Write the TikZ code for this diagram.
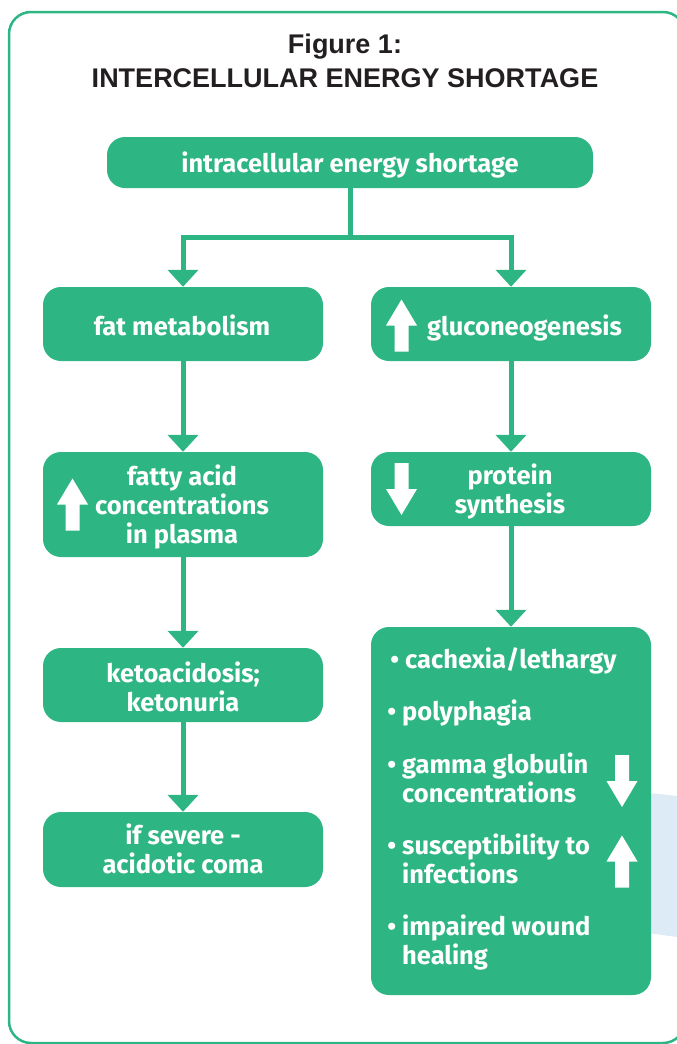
\documentclass[tikz,border=0pt]{standalone}
\usepackage{fontspec}
\setmainfont{Fira Sans}
\newfontfamily\titlefont{Liberation Sans}
\usetikzlibrary{arrows.meta}
\definecolor{vgreen}{HTML}{2EB584}
\definecolor{vblue}{HTML}{DCEBF5}
\definecolor{vink}{HTML}{231F20}
\tikzset{
  box/.style={fill=vgreen, rounded corners=18pt, minimum width=280pt, inner sep=0pt},
  boxtxt/.style={text=white, font=\bfseries\fontsize{25.5}{29}\selectfont, align=center,
    inner sep=0pt, anchor=base},
  itemtxt/.style={text=white, font=\bfseries\fontsize{25.5}{29}\selectfont, align=left,
    inner sep=0pt, anchor=base west},
  titletxt/.style={font=\titlefont\bfseries\fontsize{27}{34}\selectfont, text=vink,
    anchor=base, inner sep=0pt},
  link/.style={draw=vgreen, line width=5pt},
  conn/.style={link, -{Triangle[width=30pt,length=17pt]}},
  uparrow/.pic={\fill[white] (-7,26)--(-7,0)--(-15.5,0)--(0,-26)--(15.5,0)--(7,0)--(7,26)--cycle;},
  downarrow/.pic={\fill[white] (-7,-26)--(-7,0)--(-15.5,0)--(0,26)--(15.5,0)--(7,0)--(7,-26)--cycle;},
}
\begin{document}
\begin{tikzpicture}[x=1pt,y=-1pt]
\useasboundingbox (0,0) rectangle (677,1044);
\begin{scope}
\clip (0,0) rectangle (677,1044);
\draw[vgreen, line width=2.5pt, rounded corners=22pt] (9,12) rectangle (685,1043);
\fill[vblue] (640,792) -- (677,796) -- (677,937) -- (640,932) -- cycle;
\end{scope}

\node[titletxt] (title1) at (345,53) {Figure 1:};
\node[titletxt] (title2) at (345,87) {INTERCELLULAR ENERGY SHORTAGE};

% boxes
\node[box, minimum width=486pt, minimum height=51pt] (top) at (350,162.5) {};
\node[box, minimum height=74pt] (fat) at (183,324) {};
\node[box, minimum height=105pt] (fatty) at (183,504.5) {};
\node[box, minimum height=74pt] (keto) at (183,685) {};
\node[box, minimum height=75pt] (severe) at (183,849.5) {};
\node[box, minimum height=74pt] (gluc) at (511,324) {};
\node[box, minimum height=74pt] (prot) at (511,489) {};
\node[box, minimum height=368pt] (list) at (511,811) {};

% box texts (anchored at the baseline of their last line)
\node[boxtxt] (top-t) at (350,172) {intracellular energy shortage};
\node[boxtxt] (fat-t) at (182,335) {fat metabolism};
\node[boxtxt] (fatty-t) at (182,543) {fatty acid\\concentrations\\in plasma};
\node[boxtxt] (keto-t) at (183,711) {ketoacidosis;\\ketonuria};
\node[boxtxt] (severe-t) at (183,873) {if severe -\\acidotic coma};
\node[boxtxt] (gluc-t) at (524.5,335) {gluconeogenesis};
\node[boxtxt] (prot-t) at (510,513) {protein\\synthesis};

\pic at (401.5,325.5) {uparrow};
\pic at (72.5,504.5) {uparrow};
\pic at (401.5,489) {downarrow};
\pic at (622,781) {downarrow};
\pic at (622,861.5) {uparrow};

\node[itemtxt] (i1) at (405,668) {\llap{•\hspace{6pt}}cachexia/lethargy};
\node[itemtxt] (i2) at (402,720) {\llap{•\hspace{6pt}}polyphagia};
\node[itemtxt] (i3) at (402,802) {\llap{•\hspace{6pt}}gamma globulin\\concentrations};
\node[itemtxt] (i4) at (402,883) {\llap{•\hspace{6pt}}susceptibility to\\infections};
\node[itemtxt] (i5) at (402,964) {\llap{•\hspace{6pt}}impaired wound\\healing};

\coordinate (split) at (350,237);
\draw[link] (top.south) -- (split);
\draw[conn] (split) -| (fat.north);
\draw[conn] (split) -| (gluc.north);
\draw[conn] (fat.south) -- (fatty.north);
\draw[conn] (fatty.south) -- (keto.north);
\draw[conn] (keto.south) -- (severe.north);
\draw[conn] (gluc.south) -- (prot.north);
\draw[conn] (prot.south) -- (list.north);
\end{tikzpicture}
\end{document}
